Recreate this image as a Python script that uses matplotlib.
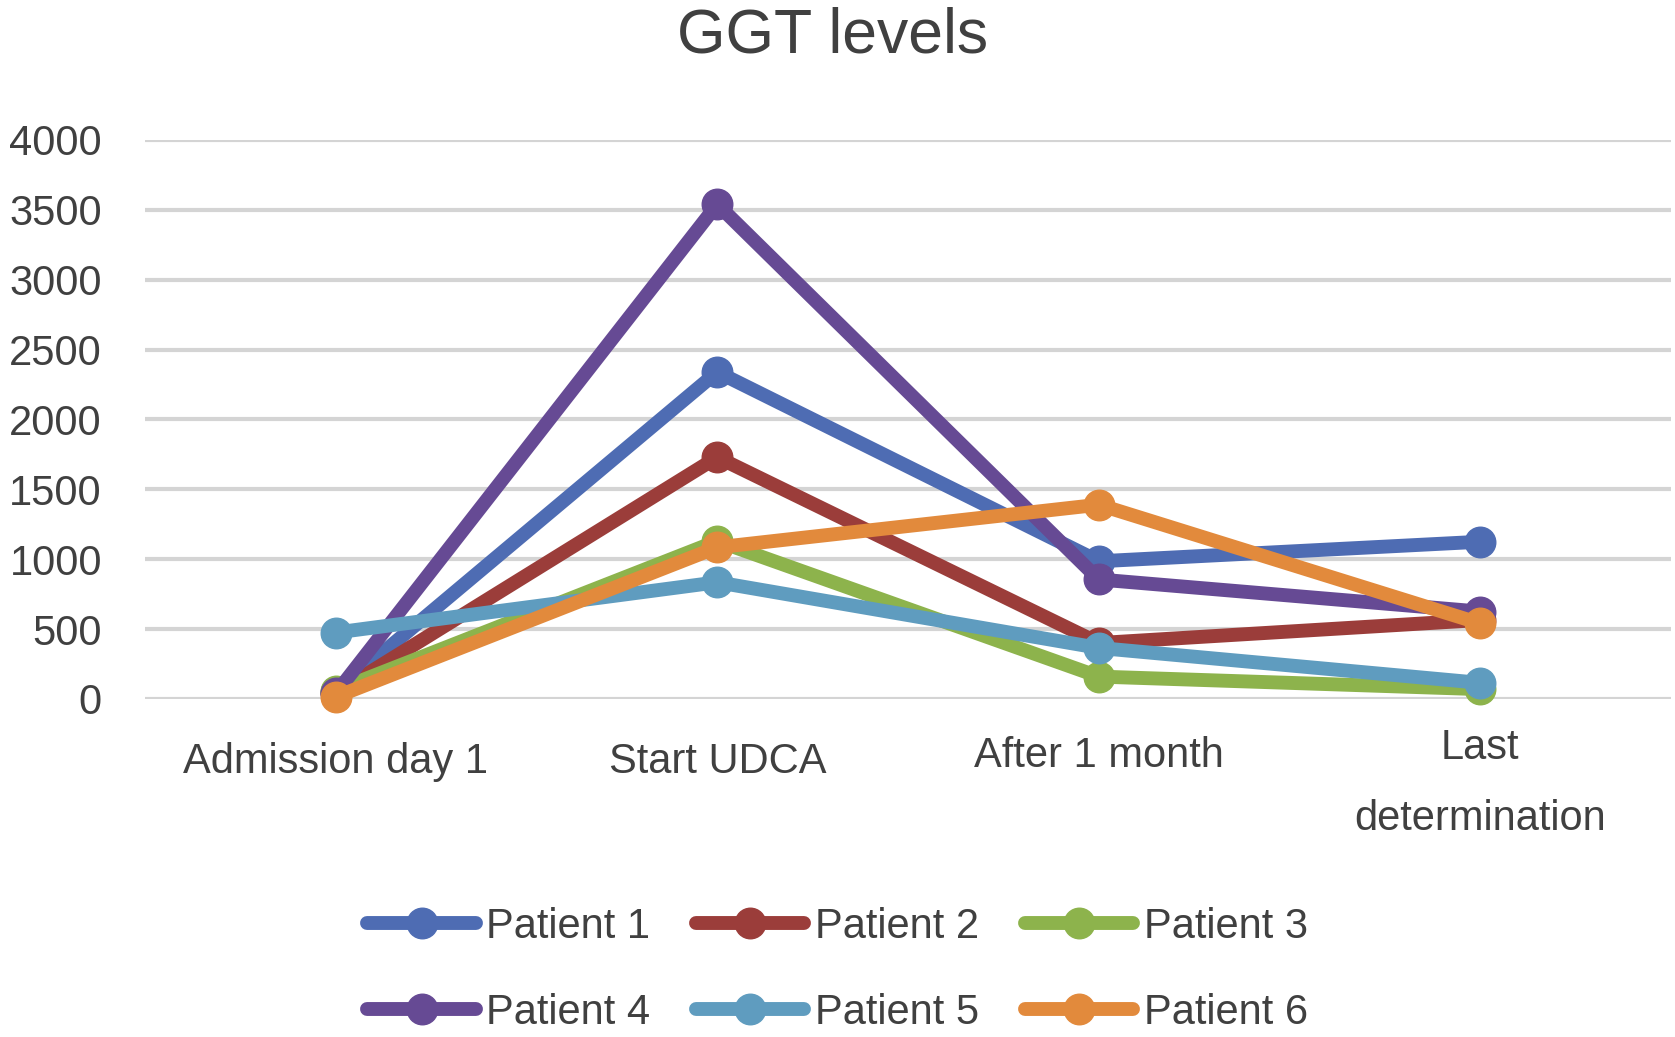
import numpy as np
import matplotlib.pyplot as plt
from matplotlib.transforms import ScaledTranslation

categories = ['Admission day 1', 'Start UDCA', 'After 1 month', 'Last\ndetermination']
patients = ['Patient 1', 'Patient 2', 'Patient 3', 'Patient 4', 'Patient 5', 'Patient 6']
p1 = [50, 2340, 985, 1125]
p2 = [40, 1730, 400, 565]
p3 = [60, 1130, 160, 70]
p4 = [40, 3540, 855, 625]
p5 = [475, 835, 365, 115]
p6 = [15, 1085, 1390, 540]
series = [p1, p2, p3, p4, p5, p6]
colors = ['#4e6cb3', '#9b3d3a', '#8db34c', '#664a94', '#5f9cbf', '#e28a3c']

plt.rcParams['font.family'] = ['Liberation Sans', 'DejaVu Sans']
text_color = '#404040'

fig = plt.figure(figsize=(16.75, 10.37), dpi=100)
ax = fig.add_axes([0.0866, 0.326, 0.911, 0.539])

x = np.arange(len(categories))
for name, vals, c in zip(patients, series, colors):
    ax.plot(x, vals, color=c, lw=10, marker='o', markersize=22, label=name,
            solid_capstyle='round', solid_joinstyle='round', clip_on=False)

ax.set_xlim(-0.5, 3.5)
ax.set_ylim(0, 4000)
ax.set_yticks(np.arange(0, 4001, 500))
ax.set_xticks(x)
ax.set_xticklabels(categories, linespacing=2.0)
ax.yaxis.grid(True, color='#d4d4d4', lw=3)
ax.set_axisbelow(True)
for s in ax.spines.values():
    s.set_visible(False)
ax.tick_params(axis='both', length=0, labelsize=30, colors=text_color)
ax.tick_params(axis='x', pad=31)
ax.tick_params(axis='y', pad=31)

# small vertical nudges of the x labels, as in the original
xlabels = ax.get_xticklabels()
for lab, dy in zip(xlabels, [0, 0, 4, 10]):
    lab.set_transform(lab.get_transform() + ScaledTranslation(0, dy / 72, fig.dpi_scale_trans))

fig.text(0.497, 0.965, 'GGT levels', ha='center', va='center', fontsize=45, color=text_color)

# legend fills row by row: 1 2 3 / 4 5 6
handles, labels = ax.get_legend_handles_labels()
order = [0, 3, 1, 4, 2, 5]
fig.legend([handles[i] for i in order], [labels[i] for i in order],
           loc='center', bbox_to_anchor=(0.5, 0.065), ncol=3, frameon=False,
           fontsize=30, handlelength=2.6, handletextpad=0.25, labelspacing=1.1,
           columnspacing=1.1, labelcolor=text_color)

fig.savefig('out.png', dpi=100)
